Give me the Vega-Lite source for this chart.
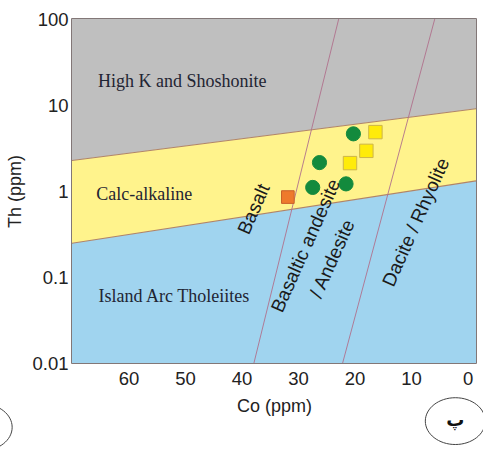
{
  "$schema": "https://vega.github.io/schema/vega-lite/v6.json",
  "width": 404,
  "height": 344,
  "autosize": {"type": "none"},
  "padding": {"left": 72, "top": 19, "right": 7, "bottom": 91},
  "background": "white",
  "config": {
    "view": {"stroke": "#5a4b4b", "strokeWidth": 1.5},
    "font": "Liberation Sans"
  },
  "datasets": {
    "fields": [
      {"Co": 70, "top": 100, "upper": 2.26, "lower": 0.247, "bottom": 0.01},
      {"Co": -1.5, "top": 100, "upper": 9.03, "lower": 1.31, "bottom": 0.01}
    ],
    "dividers": [
      {"line": "basalt-andesite", "Co": 37.8, "Th": 0.01},
      {"line": "basalt-andesite", "Co": 22.8, "Th": 100},
      {"line": "andesite-dacite", "Co": 22.1, "Th": 0.01},
      {"line": "andesite-dacite", "Co": 5.8, "Th": 100}
    ],
    "series": [
      {"name": "High K and Shoshonite", "Co": 65.4, "Th": 16.4},
      {"name": "Calc-alkaline", "Co": 65.7, "Th": 0.79},
      {"name": "Island Arc Tholeiites", "Co": 65.3, "Th": 0.0515}
    ],
    "rocks": [
      {"name": "Basalt", "Co": 37.8, "Th": 0.614},
      {"name": "Basaltic andesite", "Co": 28.6, "Th": 0.231},
      {"name": "/ Andesite", "Co": 23.9, "Th": 0.162},
      {"name": "Dacite / Rhyolite", "Co": 9.1, "Th": 0.433}
    ],
    "samples": [
      {"group": "A", "Co": 20.2, "Th": 4.62},
      {"group": "A", "Co": 26.2, "Th": 2.14},
      {"group": "A", "Co": 27.4, "Th": 1.1},
      {"group": "A", "Co": 21.5, "Th": 1.21},
      {"group": "B", "Co": 16.3, "Th": 4.84},
      {"group": "B", "Co": 17.9, "Th": 2.93},
      {"group": "B", "Co": 20.8, "Th": 2.11},
      {"group": "C", "Co": 31.8, "Th": 0.85}
    ],
    "panel": [
      {"Co": 2.16, "Th": 0.00211, "tag": "پ"},
      {"Co": 85.9, "Th": 0.00179, "tag": ""}
    ]
  },
  "layer": [
    {
      "data": {"name": "fields"},
      "mark": {"type": "area", "color": "#bfbfbf"},
      "encoding": {
        "x": {"field": "Co", "type": "quantitative", "title": "Co (ppm)",
          "scale": {"domain": [70, -1.5], "nice": false, "zero": false},
          "axis": {"values": [60, 50, 40, 30, 20, 10, 0], "ticks": false, "grid": false, "domain": false,
            "labelFontSize": 18.5, "labelColor": "#222", "labelPadding": 6, "labelFlush": false,
            "titleFontSize": 18, "titleFontWeight": "normal", "titleColor": "#222", "titlePadding": 10}},
        "y": {"field": "upper", "type": "quantitative", "title": "Th (ppm)",
          "scale": {"type": "log", "domain": [0.01, 100], "nice": false},
          "axis": {"values": [0.01, 0.1, 1, 10, 100], "format": "~g", "ticks": false, "grid": false, "domain": false,
            "labelFontSize": 18.5, "labelColor": "#222", "labelPadding": 4, "labelFlush": false,
            "titleFontSize": 18, "titleFontWeight": "normal", "titleColor": "#222", "titlePadding": 7}},
        "y2": {"field": "top"}
      }
    },
    {
      "data": {"name": "fields"},
      "mark": {"type": "area", "color": "#fff38c"},
      "encoding": {
        "x": {"field": "Co", "type": "quantitative", "title": "Co (ppm)"},
        "y": {"field": "lower", "type": "quantitative", "title": "Th (ppm)"},
        "y2": {"field": "upper"}
      }
    },
    {
      "data": {"name": "fields"},
      "mark": {"type": "area", "color": "#a0d4ef"},
      "encoding": {
        "x": {"field": "Co", "type": "quantitative", "title": "Co (ppm)"},
        "y": {"field": "bottom", "type": "quantitative", "title": "Th (ppm)"},
        "y2": {"field": "lower"}
      }
    },
    {
      "data": {"name": "fields"},
      "mark": {"type": "line", "color": "#b08468", "strokeWidth": 1.1},
      "encoding": {
        "x": {"field": "Co", "type": "quantitative", "title": "Co (ppm)"},
        "y": {"field": "upper", "type": "quantitative", "title": "Th (ppm)"}
      }
    },
    {
      "data": {"name": "fields"},
      "mark": {"type": "line", "color": "#b08468", "strokeWidth": 1.1},
      "encoding": {
        "x": {"field": "Co", "type": "quantitative", "title": "Co (ppm)"},
        "y": {"field": "lower", "type": "quantitative", "title": "Th (ppm)"}
      }
    },
    {
      "data": {"name": "dividers"},
      "mark": {"type": "line", "color": "#b0708c", "strokeWidth": 0.9},
      "encoding": {
        "x": {"field": "Co", "type": "quantitative", "title": "Co (ppm)"},
        "y": {"field": "Th", "type": "quantitative", "title": "Th (ppm)"},
        "detail": {"field": "line"}
      }
    },
    {
      "data": {"name": "series"},
      "mark": {"type": "text", "align": "left", "baseline": "alphabetic", "font": "Liberation Serif", "fontSize": 18, "color": "#1f2533"},
      "encoding": {
        "x": {"field": "Co", "type": "quantitative", "title": "Co (ppm)"},
        "y": {"field": "Th", "type": "quantitative", "title": "Th (ppm)"},
        "text": {"field": "name"}
      }
    },
    {
      "data": {"name": "samples"},
      "mark": {"type": "point", "filled": true, "opacity": 1, "strokeWidth": 1},
      "encoding": {
        "x": {"field": "Co", "type": "quantitative", "title": "Co (ppm)"},
        "y": {"field": "Th", "type": "quantitative", "title": "Th (ppm)"},
        "shape": {"field": "group", "scale": {"domain": ["A", "B", "C"], "range": ["circle", "square", "square"]}, "legend": null},
        "fill": {"field": "group", "scale": {"domain": ["A", "B", "C"], "range": ["#138a3d", "#ffeb0a", "#ee7a2c"]}, "legend": null},
        "stroke": {"field": "group", "scale": {"domain": ["A", "B", "C"], "range": ["#138a3d", "#cdb54a", "#c9602a"]}, "legend": null},
        "size": {"field": "group", "scale": {"domain": ["A", "B", "C"], "range": [200, 160, 160]}, "legend": null}
      }
    },
    {
      "data": {"name": "rocks"},
      "mark": {"type": "text", "align": "center", "baseline": "middle", "angle": -66, "font": "Liberation Sans", "fontSize": 19, "color": "#1a1a1a"},
      "encoding": {
        "x": {"field": "Co", "type": "quantitative", "title": "Co (ppm)"},
        "y": {"field": "Th", "type": "quantitative", "title": "Th (ppm)"},
        "text": {"field": "name"}
      }
    },
    {
      "data": {"name": "panel"},
      "mark": {"type": "point", "shape": "M -1 0 A 1 0.78 0 1 0 1 0 A 1 0.78 0 1 0 -1 0 Z", "size": 3600, "filled": false, "stroke": "#444", "strokeWidth": 1, "opacity": 1},
      "encoding": {
        "x": {"field": "Co", "type": "quantitative", "title": "Co (ppm)"},
        "y": {"field": "Th", "type": "quantitative", "title": "Th (ppm)"}
      }
    },
    {
      "data": {"name": "panel"},
      "mark": {"type": "text", "align": "center", "baseline": "middle", "font": "DejaVu Sans", "fontSize": 18, "fontWeight": "bold", "color": "#111"},
      "encoding": {
        "x": {"field": "Co", "type": "quantitative", "title": "Co (ppm)"},
        "y": {"field": "Th", "type": "quantitative", "title": "Th (ppm)"},
        "text": {"field": "tag"}
      }
    }
  ]
}
